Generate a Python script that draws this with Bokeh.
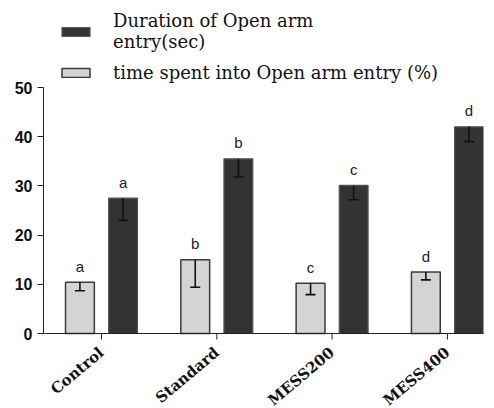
import math
from bokeh.plotting import figure
from bokeh.models import Range1d, FixedTicker, Whisker, ColumnDataSource, Legend, LegendItem, TeeHead, Span
from bokeh.core.properties import value
from bokeh.embed import file_html
from bokeh.resources import INLINE

groups = ["Control", "Standard", "MESS200", "MESS400"]
pct_vals = [10.4, 15.0, 10.2, 12.5]
pct_err = [1.7, 5.6, 2.3, 1.6]
pct_letters = ["a", "b", "c", "d"]
dur_vals = [27.5, 35.5, 30.1, 42.0]
dur_err = [4.5, 3.7, 2.9, 3.0]
dur_letters = ["a", "b", "c", "d"]
y_ticks = [0, 10, 20, 30, 40, 50]

W, H = 494, 408
PX = 4.92          # pixels per y unit
ZERO_Y = 333       # pixel row of the x axis
xs = list(range(len(groups)))
off = 0.187
bw = 0.25
tick_len = 6 / PX

src_pct = ColumnDataSource(dict(
    x=[x - off for x in xs], top=pct_vals,
    lower=[v - e for v, e in zip(pct_vals, pct_err)], lab=pct_letters))
src_dur = ColumnDataSource(dict(
    x=[x + off for x in xs], top=dur_vals,
    lower=[v - e for v, e in zip(dur_vals, dur_err)], lab=dur_letters))
src_grp = ColumnDataSource(dict(x=xs, y=[0] * len(xs), y1=[-tick_len] * len(xs), lab=groups))

p = figure(width=W, height=H, output_backend="svg", toolbar_location=None,
           x_axis_location=None,
           x_range=Range1d(-0.503, 3.313),
           y_range=Range1d(-(H - ZERO_Y) / PX, ZERO_Y / PX),
           min_border_left=43, min_border_right=11, min_border_top=0, min_border_bottom=0)
p.outline_line_color = None
p.xgrid.visible = False
p.ygrid.visible = False
p.background_fill_color = "white"

r_dur = p.vbar(x="x", top="top", bottom=0, width=bw, source=src_dur, fill_color="#333333",
               line_color="#555555", line_width=1.2)
r_pct = p.vbar(x="x", top="top", bottom=0, width=bw, source=src_pct, fill_color="#d4d4d4",
               line_color="#3a3a3a", line_width=1.5)

for s in (src_pct, src_dur):
    w = Whisker(base="x", upper="top", lower="lower", source=s, dimension="height",
                line_color="#111111", line_width=1.6, level="overlay",
                upper_head=None,
                lower_head=TeeHead(size=10, line_color="#111111", line_width=1.6))
    p.add_layout(w)
    p.text(x="x", y="top", text="lab", source=s, text_align="center",
           text_baseline="alphabetic", y_offset=-16, text_font=value("Liberation Sans"),
           text_font_size="15px", text_color="#222222")

# x axis: line, ticks and rotated category labels
p.add_layout(Span(location=0, dimension="width", line_color="#222222", line_width=1))
p.segment(x0="x", y0="y", x1="x", y1="y1", source=src_grp, line_color="#222222", line_width=1)
p.text(x="x", y="y", text="lab", source=src_grp, angle=math.radians(40),
       text_align="right", text_baseline="middle", x_offset=0, y_offset=17,
       text_font=value("DejaVu Serif"), text_font_style="bold",
       text_font_size="15px", text_color="#111111")

# y axis
p.yaxis.bounds = (0, 50)
p.yaxis.ticker = FixedTicker(ticks=y_ticks)
p.yaxis.minor_tick_line_color = None
p.yaxis.major_tick_out = 6
p.yaxis.major_tick_in = 0
p.yaxis.axis_line_color = "#222222"
p.yaxis.major_tick_line_color = "#222222"
p.yaxis.major_label_text_font = "Liberation Sans"
p.yaxis.major_label_text_font_style = "bold"
p.yaxis.major_label_text_font_size = "16px"
p.yaxis.major_label_text_color = "#111111"

legend = Legend(items=[
    LegendItem(label="Duration of Open arm\nentry(sec)", renderers=[r_dur]),
    LegendItem(label="time spent into Open arm entry (%)", renderers=[r_pct]),
])
legend.margin = 0
legend.padding = 0
legend.border_line_color = None
legend.background_fill_alpha = 0
legend.glyph_width = 35
legend.glyph_height = 11
legend.label_standoff = 20
legend.spacing = 10
legend.label_text_font = "DejaVu Serif"
legend.label_text_font_size = "18px"
legend.label_text_color = "#111111"
legend.location = (15, 325)
p.add_layout(legend)

open("out.html", "w").write(file_html(p, INLINE))
